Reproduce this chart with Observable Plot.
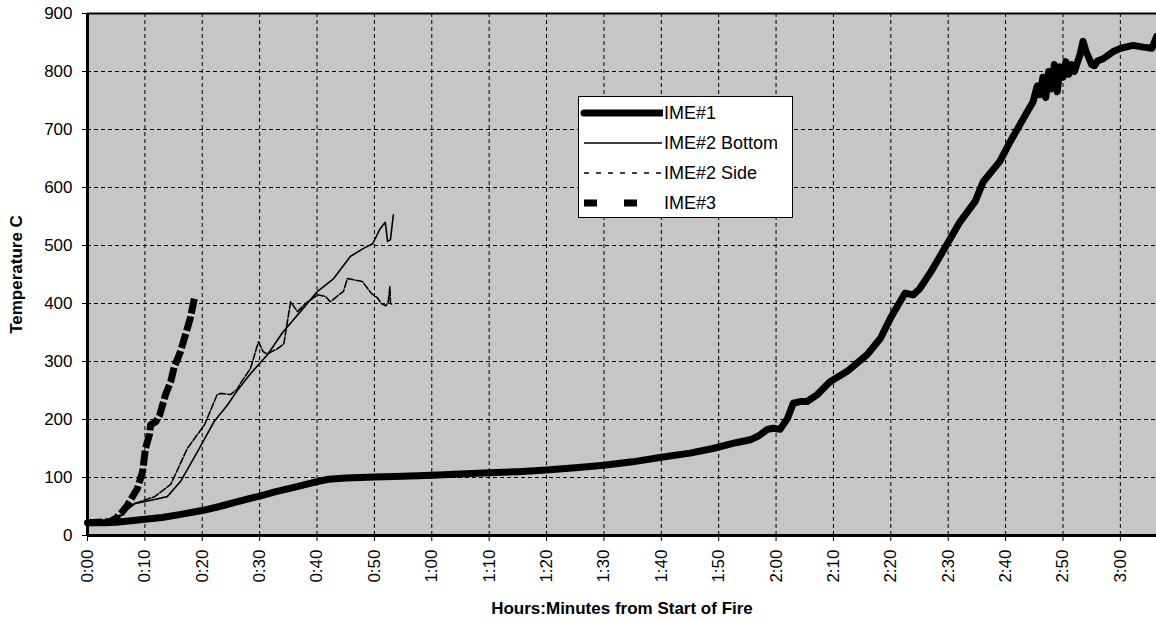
<!DOCTYPE html>
<html>
<head>
<meta charset="utf-8">
<script src="https://cdn.jsdelivr.net/npm/d3@7"></script>
<script src="https://cdn.jsdelivr.net/npm/@observablehq/plot@0.6"></script>
<style>
  body { margin: 0; background: #fff; }
  #wrap { position: relative; width: 1156px; height: 621px; font-family: "Liberation Sans", Arial, sans-serif; }
  #legend { position: absolute; left: 578px; top: 96px; width: 213px; height: 120px; background: #fff; border: 1px solid #000; }
  #legend .row { position: absolute; left: 0; height: 30px; display: flex; align-items: center; }
  #legend .lab { font-size: 18px; color: #000; margin-left: 1px; }
</style>
</head>
<body>
<div id="wrap"></div>
<script>
// ---- Data (minutes from start of fire, temperature °C) ----
const seriesNames = ["IME#1", "IME#2 Bottom", "IME#2 Side", "IME#3"];

const ime1Minutes = [0, 3, 5, 8, 10, 13, 16, 20, 23, 26, 30, 33, 36, 40, 42, 45, 50, 55, 60, 65, 70, 75, 80, 85, 90, 95, 100, 105, 109, 113, 115.5, 117, 118.5, 119.5, 120.7, 122, 123, 124.2, 125.4, 127.2, 129.4, 132.4, 135.9, 138.2, 139.9, 141.6, 142.5, 143.9, 145, 147, 149.8, 152, 154.7, 156.1, 159, 160.8, 163.8, 164.8, 165.5, 166, 166.5, 167, 167.5, 168, 168.5, 169, 169.5, 170, 170.5, 171, 171.5, 172, 173, 173.5, 174, 175, 175.5, 176, 177, 178.7, 180, 182.2, 184, 185.5, 186.3];
const ime1Temp    = [22, 22, 23, 26, 28, 31, 36, 43, 50, 58, 68, 76, 83, 93, 97, 99, 101, 102, 104, 106, 108, 110, 113, 117, 121, 127, 135, 142, 150, 160, 165, 172, 183, 185, 183, 202, 228, 231, 231, 243, 265, 283, 312, 340, 374, 403, 418, 415, 425, 455, 502, 540, 576, 610, 645, 679, 731, 748, 775, 760, 790, 755, 800, 770, 812, 765, 808, 790, 817, 795, 812, 800, 830, 852, 835, 812, 810, 818, 822, 834, 840, 845, 842, 840, 860];

const ime2BottomMinutes = [0, 4, 6, 7, 8.2, 11.7, 13.9, 16.2, 19.2, 22.1, 24.4, 26.1, 28.5, 31.4, 34, 37.1, 40.1, 42.9, 45.8, 48.1, 49.7, 51, 51.9, 52.3, 52.8, 53.3];
const ime2BottomTemp    = [22, 24, 35, 45, 55, 62, 67, 93, 145, 197, 225, 250, 280, 312, 350, 386, 421, 443, 481, 495, 503, 529, 540, 507, 510, 553];

const ime2SideMinutes = [0, 4, 6, 7, 8.2, 11.7, 14.5, 17.4, 20.4, 22.6, 23.2, 24.9, 26.1, 26.5, 28.4, 29.8, 30.6, 31.3, 33.1, 34.2, 35.4, 36.6, 38, 40.1, 41.5, 42.3, 44.6, 45.3, 47.9, 49.5, 50.5, 51.2, 52, 52.4, 52.7, 52.8, 53.3];
const ime2SideTemp    = [22, 24, 38, 47, 55, 67, 88, 150, 191, 243, 245, 243, 252, 260, 288, 334, 317, 313, 322, 330, 403, 386, 400, 415, 412, 403, 421, 443, 438, 417, 410, 400, 396, 403, 429, 400, 398];

const ime3Minutes = [0, 4, 5, 6, 7, 8.7, 9.6, 10.1, 10.8, 11, 11.9, 12.6, 13.6, 14.5, 15.1, 16.2, 17.9, 18.7];
const ime3Temp    = [22, 24, 30, 40, 53, 81, 110, 150, 174, 191, 196, 208, 243, 265, 290, 317, 374, 412];

const xTickMinutes = [0, 10, 20, 30, 40, 50, 60, 70, 80, 90, 100, 110, 120, 130, 140, 150, 160, 170, 180];
const xTickLabels  = ["0:00", "0:10", "0:20", "0:30", "0:40", "0:50", "1:00", "1:10", "1:20", "1:30", "1:40", "1:50", "2:00", "2:10", "2:20", "2:30", "2:40", "2:50", "3:00"];
const yTicks = [0, 100, 200, 300, 400, 500, 600, 700, 800, 900];

const xTitle = "Hours:Minutes from Start of Fire";
const yTitle = "Temperature C";

// ---- Build tables ----
const toRows = (mins, temps) => mins.map((m, i) => ({m, t: temps[i]}));
const ime1 = toRows(ime1Minutes, ime1Temp);
const ime2b = toRows(ime2BottomMinutes, ime2BottomTemp);
const ime2s = toRows(ime2SideMinutes, ime2SideTemp);
const ime3 = toRows(ime3Minutes, ime3Temp);

const styles = {
  "IME#1": {stroke: "#000", strokeWidth: 7, dash: null},
  "IME#2 Bottom": {stroke: "#000", strokeWidth: 1.6, dash: null},
  "IME#2 Side": {stroke: "#000", strokeWidth: 1.6, dash: "7,2"},
  "IME#3": {stroke: "#000", strokeWidth: 7, dash: "15,3"}
};

const chart = Plot.plot({
  width: 1156,
  height: 621,
  marginLeft: 87,
  marginRight: 0,
  marginTop: 13,
  marginBottom: 86,
  style: {fontFamily: "'Liberation Sans', Arial, sans-serif", fontSize: "17px", color: "#000", background: "#fff"},
  x: {domain: [0, 186.3]},
  y: {domain: [0, 900]},
  marks: [
    Plot.frame({fill: "#c6c6c6", stroke: "none"}),
    Plot.gridX(xTickMinutes, {stroke: "#000", strokeOpacity: 1, strokeWidth: 1, strokeDasharray: "4,3"}),
    Plot.gridY(yTicks, {stroke: "#000", strokeOpacity: 1, strokeWidth: 1, strokeDasharray: "4,3"}),
    Plot.ruleY([900], {stroke: "#000", strokeWidth: 2}),
    Plot.axisX(xTickMinutes, {
      tickFormat: (d, i) => xTickLabels[i],
      tickRotate: -90, tickSize: 6, tickPadding: 8, tickWidth: 1.5,
      label: xTitle, labelAnchor: "center", labelOffset: 78, labelArrow: false
    }),
    Plot.axisY(yTicks, {
      tickSize: 5, tickPadding: 10,
      label: yTitle, labelAnchor: "center", labelOffset: 78, labelArrow: false
    }),
    Plot.line(ime2s, {x: "m", y: "t", stroke: styles["IME#2 Side"].stroke, strokeWidth: styles["IME#2 Side"].strokeWidth, strokeDasharray: styles["IME#2 Side"].dash}),
    Plot.line(ime2b, {x: "m", y: "t", stroke: styles["IME#2 Bottom"].stroke, strokeWidth: styles["IME#2 Bottom"].strokeWidth}),
    Plot.line(ime3, {x: "m", y: "t", stroke: styles["IME#3"].stroke, strokeWidth: styles["IME#3"].strokeWidth, strokeDasharray: styles["IME#3"].dash, strokeLinecap: "butt"}),
    Plot.line(ime1, {x: "m", y: "t", stroke: styles["IME#1"].stroke, strokeWidth: styles["IME#1"].strokeWidth, strokeLinejoin: "round"}),
    Plot.ruleX([0], {stroke: "#000", strokeWidth: 3}),
    Plot.ruleY([0], {stroke: "#000", strokeWidth: 3})
  ]
});

// Bold axis titles
chart.querySelectorAll('[aria-label="x-axis label"], [aria-label="y-axis label"]').forEach(g => {
  g.setAttribute("font-weight", "bold");
  g.setAttribute("font-size", "17px");
});

const wrap = document.getElementById("wrap");
wrap.appendChild(chart);

// Legend
const legend = document.createElement("div");
legend.id = "legend";
seriesNames.forEach((name, i) => {
  const s = styles[name];
  const row = document.createElement("div");
  row.className = "row";
  row.style.top = (1 + i * 30) + "px";
  const ns = "http://www.w3.org/2000/svg";
  const sv = document.createElementNS(ns, "svg");
  sv.setAttribute("width", 84);
  sv.setAttribute("height", 30);
  const ln = document.createElementNS(ns, "line");
  ln.setAttribute("x1", 5); ln.setAttribute("x2", 83);
  ln.setAttribute("y1", 15); ln.setAttribute("y2", 15);
  ln.setAttribute("stroke", s.stroke);
  ln.setAttribute("stroke-width", s.strokeWidth);
  if (name === "IME#2 Side") ln.setAttribute("stroke-dasharray", "5,7");
  else if (name === "IME#3") ln.setAttribute("stroke-dasharray", "13,27");
  else if (name === "IME#1") ln.setAttribute("stroke-linecap", "round");
  sv.appendChild(ln);
  row.appendChild(sv);
  const lab = document.createElement("span");
  lab.className = "lab";
  lab.textContent = name;
  row.appendChild(lab);
  legend.appendChild(row);
});
wrap.appendChild(legend);
</script>
</body>
</html>
